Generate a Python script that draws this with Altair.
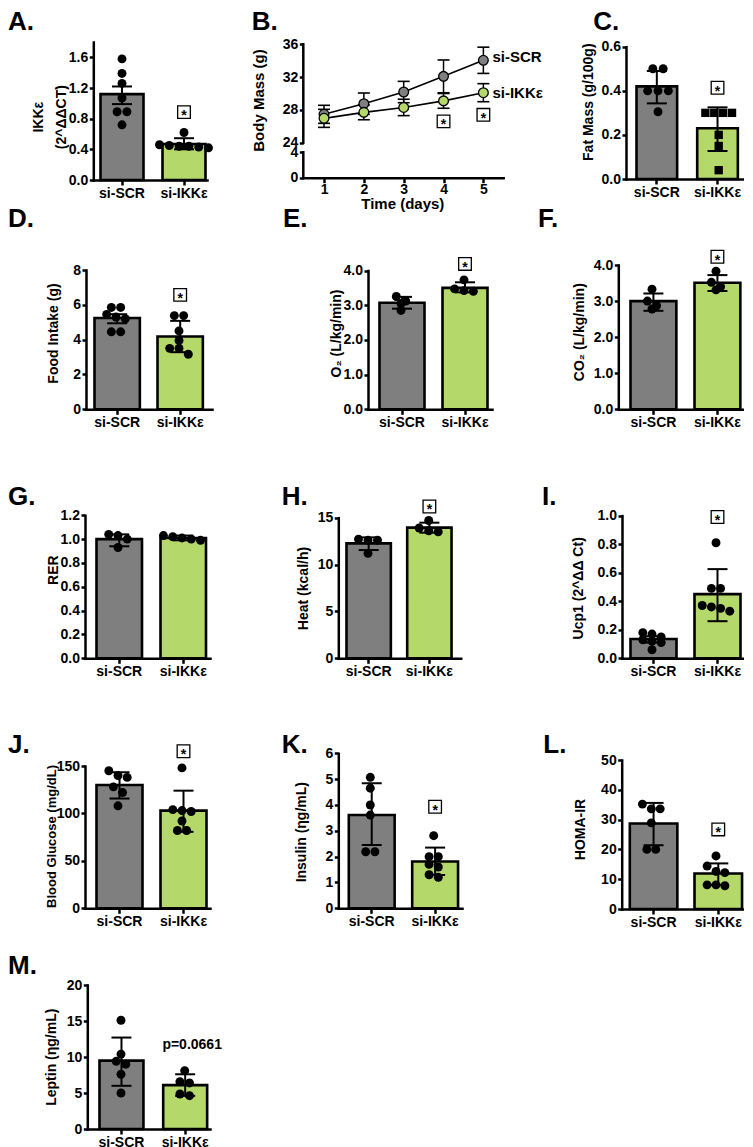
import altair as alt
import pandas as pd

FONT = "Liberation Sans"
CATS = ["si-SCR", "si-IKKε"]
GRAY = "#7f7f7f"
GREEN = "#b5d86b"

# ---------------- values ----------------
A_scr = [1.58, 1.39, 1.26, 1.07, 0.89, 0.89, 0.72]
A_ikk = [0.62, 0.46, 0.45, 0.44, 0.44, 0.43, 0.42]
A_bar = [1.12, 0.47]
A_lo = [0.99, 0.40]
A_hi = [1.22, 0.545]
A_sig = 0.885
A_ticks = [0, 0.4, 0.8, 1.2, 1.6]

B_days = [1, 2, 3, 4, 5]
B_scr_mean = [27.46, 28.76, 30.18, 32.09, 34.05]
B_scr_sem = [1.1, 1.3, 1.3, 2.0, 1.6]
B_ikk_mean = [26.97, 27.7, 28.3, 29.1, 30.1]
B_ikk_sem = [1.1, 0.9, 1.0, 0.9, 1.1]
B_sig_days = [4, 5]
B_sig_vals = [26.6, 27.4]
B_label_vals = [34.5, 30.1]
B_yticks = [0, 4, 24, 28, 32, 36]
B_xticks = [1, 2, 3, 4, 5]

C_scr = [0.50, 0.50, 0.40, 0.40, 0.40, 0.305]
C_ikk = [0.30, 0.30, 0.30, 0.30, 0.20, 0.15, 0.04]
C_bar = [0.42, 0.23]
C_lo = [0.343, 0.127]
C_hi = [0.49, 0.325]
C_sig = 0.414
C_ticks = [0, 0.2, 0.4, 0.6]

D_scr = [5.85, 5.85, 5.45, 5.3, 5.2, 4.45, 4.45]
D_ikk = [5.38, 5.38, 4.5, 3.95, 3.5, 3.5, 3.16]
D_bar = [5.24, 4.18]
D_lo = [4.94, 3.28]
D_hi = [5.46, 5.08]
D_sig = 6.57
D_ticks = [0, 2, 4, 6, 8]

E_scr = [3.25, 3.12, 3.05, 2.85]
E_ikk = [3.73, 3.47, 3.42, 3.40]
E_bar = [3.07, 3.5]
E_lo = [2.9, 3.37]
E_hi = [3.24, 3.66]
E_sig = 4.19
E_ticks = [0, 1, 2, 3, 4]

F_scr = [3.33, 3.0, 2.87, 2.78]
F_ikk = [3.83, 3.52, 3.40, 3.31]
F_bar = [3.0, 3.51]
F_lo = [2.73, 3.28]
F_hi = [3.21, 3.72]
F_sig = 4.23
F_ticks = [0, 1, 2, 3, 4]

G_scr = [1.04, 1.03, 1.0, 0.93]
G_ikk = [1.03, 1.02, 1.01, 1.0, 0.99]
G_bar = [1.0, 1.01]
G_lo = [0.94, 0.99]
G_hi = [1.04, 1.03]
G_ticks = [0, 0.2, 0.4, 0.6, 0.8, 1.0, 1.2]

H_scr = [12.7, 12.6, 12.6, 11.2]
H_ikk = [14.7, 13.9, 13.6, 13.5]
H_bar = [12.26, 13.94]
H_lo = [11.55, 13.4]
H_hi = [12.9, 14.47]
H_sig = 16.2
H_ticks = [0, 5, 10, 15]

I_scr = [0.18, 0.17, 0.15, 0.13, 0.12, 0.11, 0.06]
I_ikk = [0.81, 0.49, 0.49, 0.37, 0.36, 0.35, 0.33]
I_bar = [0.135, 0.45]
I_lo = [0.11, 0.26]
I_hi = [0.155, 0.625]
I_sig = 0.99
I_ticks = [0, 0.2, 0.4, 0.6, 0.8, 1.0]

J_scr = [145, 140, 138, 128, 122, 108]
J_ikk = [148, 104, 103, 102, 92, 82, 82]
J_bar = [130, 103]
J_lo = [115.7, 80.6]
J_hi = [143.4, 124]
J_sig = 165.5
J_ticks = [0, 50, 100, 150]

K_scr = [5.07, 4.65, 4.0, 3.61, 2.19, 2.19]
K_ikk = [2.81, 2.0, 2.0, 1.7, 1.6, 1.3, 1.2]
K_bar = [3.61, 1.81]
K_lo = [2.45, 1.29]
K_hi = [4.84, 2.35]
K_sig = 3.93
K_ticks = [0, 1, 2, 3, 4, 5, 6]

L_scr = [35.2, 33.6, 33.6, 28.9, 20.0, 20.0]
L_ikk = [17.8, 14.4, 12.6, 12.2, 8.1, 8.1, 7.8]
L_bar = [28.7, 11.9]
L_lo = [21.4, 8.1]
L_hi = [35.6, 15.3]
L_sig = 26.7
L_ticks = [0, 10, 20, 30, 40, 50]

M_scr = [15.1, 10.4, 9.4, 9.0, 7.6, 5.0]
M_ikk = [8.1, 6.57, 6.4, 4.86, 4.63]
M_bar = [9.5, 6.1]
M_lo = [6.0, 4.6]
M_hi = [12.7, 7.6]
M_ptext = "p=0.0661"
M_pval_y = 11.6
M_ticks = [0, 5, 10, 15, 20]

PANELS = {
    "A": dict(scr=A_scr, ikk=A_ikk, bar=A_bar, lo=A_lo, hi=A_hi, sig=A_sig, ymax=1.8, ticks=A_ticks, fmt=".1f",
              title=["IKKε", "(2^ΔΔCT)"]),
    "C": dict(scr=C_scr, ikk=C_ikk, bar=C_bar, lo=C_lo, hi=C_hi, sig=C_sig, ymax=0.6, ticks=C_ticks, fmt=".1f",
              title="Fat Mass (g/100g)", ikk_shape="square"),
    "D": dict(scr=D_scr, ikk=D_ikk, bar=D_bar, lo=D_lo, hi=D_hi, sig=D_sig, ymax=8, ticks=D_ticks, fmt="d",
              title="Food Intake (g)"),
    "E": dict(scr=E_scr, ikk=E_ikk, bar=E_bar, lo=E_lo, hi=E_hi, sig=E_sig, ymax=4, ticks=E_ticks, fmt=".1f",
              title="O₂ (L/kg/min)"),
    "F": dict(scr=F_scr, ikk=F_ikk, bar=F_bar, lo=F_lo, hi=F_hi, sig=F_sig, ymax=4, ticks=F_ticks, fmt=".1f",
              title="CO₂ (L/kg/min)"),
    "G": dict(scr=G_scr, ikk=G_ikk, bar=G_bar, lo=G_lo, hi=G_hi, sig=None, ymax=1.2, ticks=G_ticks, fmt=".1f",
              title="RER"),
    "H": dict(scr=H_scr, ikk=H_ikk, bar=H_bar, lo=H_lo, hi=H_hi, sig=H_sig, ymax=15, ticks=H_ticks, fmt="d",
              title="Heat (kcal/h)"),
    "I": dict(scr=I_scr, ikk=I_ikk, bar=I_bar, lo=I_lo, hi=I_hi, sig=I_sig, ymax=1.0, ticks=I_ticks, fmt=".1f",
              title="Ucp1 (2^ΔΔ Ct)"),
    "J": dict(scr=J_scr, ikk=J_ikk, bar=J_bar, lo=J_lo, hi=J_hi, sig=J_sig, ymax=150, ticks=J_ticks, fmt="d",
              title="Blood Glucose (mg/dL)", title_size=13),
    "K": dict(scr=K_scr, ikk=K_ikk, bar=K_bar, lo=K_lo, hi=K_hi, sig=K_sig, ymax=6, ticks=K_ticks, fmt="d",
              title="Insulin (ηg/mL)"),
    "L": dict(scr=L_scr, ikk=L_ikk, bar=L_bar, lo=L_lo, hi=L_hi, sig=L_sig, ymax=50, ticks=L_ticks, fmt="d",
              title="HOMA-IR"),
    "M": dict(scr=M_scr, ikk=M_ikk, bar=M_bar, lo=M_lo, hi=M_hi, sig=None, ymax=20, ticks=M_ticks, fmt="d",
              title="Leptin (ηg/mL)", note=M_ptext, note_y=M_pval_y),
}

# ---------------- layout (page pixels) ----------------
CELL_W = 245
CELL_H = 224
COL_LEFT = [8 + i * CELL_W for i in range(3)]
ROW_TOP = [8 + i * CELL_H for i in range(5)]

GEOM = {
    "A": dict(row=0, col=0, axis_x=93.3, x_end=207, b1=(100, 145), b2=(162, 205), top=42, bottom=180,
              title=(38.5, 116.7), letter=(8, 30)),
    "B": dict(row=0, col=1, axis_x=303.3, x_end=503.3, top=44.3, bottom=177.7, p4=152.3, p24=142.7,
              title=(258.3, 100), xtitle=(402.3, 208.3), letter=(251.7, 30)),
    "C": dict(row=0, col=2, axis_x=626, x_end=748, b1=(636, 677.7), b2=(696.7, 738.3), top=46.7, bottom=179,
              title=(588.3, 101.7), letter=(593.3, 30)),
    "D": dict(row=1, col=0, axis_x=86, x_end=212, b1=(94, 140.7), b2=(157, 203), top=270, bottom=409.3,
              title=(53.3, 333), letter=(8, 227)),
    "E": dict(row=1, col=1, axis_x=368, x_end=492, b1=(379, 425), b2=(442, 488), top=270.5, bottom=409.3,
              title=(336, 333), letter=(283, 227)),
    "F": dict(row=1, col=2, axis_x=618.3, x_end=749, b1=(630, 676.7), b2=(694, 741), top=265, bottom=409.3,
              title=(579.3, 331.7), letter=(538, 227)),
    "G": dict(row=2, col=0, axis_x=85, x_end=210, b1=(96, 143), b2=(160, 206), top=515.3, bottom=658.3,
              title=(53, 569.6), letter=(8, 505)),
    "H": dict(row=2, col=1, axis_x=338.3, x_end=460.7, b1=(346, 390.7), b2=(406.7, 452.7), top=517.7,
              bottom=658.3, title=(303.3, 588), letter=(281.7, 505)),
    "I": dict(row=2, col=2, axis_x=622, x_end=749, b1=(630, 677), b2=(694, 741), top=515.6, bottom=658.3,
              title=(578, 587.8), letter=(542, 505)),
    "J": dict(row=3, col=0, axis_x=85, x_end=210, b1=(96, 144), b2=(160, 206), top=766, bottom=908.3,
              title=(51, 836), letter=(8, 753)),
    "K": dict(row=3, col=1, axis_x=338.3, x_end=462, b1=(348.3, 396.7), b2=(411.7, 457), top=753.3,
              bottom=908.3, title=(301.7, 831.7), letter=(281.7, 753)),
    "L": dict(row=3, col=2, axis_x=621.7, x_end=750, b1=(629.3, 677.7), b2=(694, 742.7), top=760,
              bottom=909, title=(580, 829), letter=(543.3, 753)),
    "M": dict(row=4, col=0, axis_x=87.3, x_end=210, b1=(99, 144.3), b2=(162.7, 207.3), top=985, bottom=1129,
              title=(51.7, 1056.7), letter=(8, 974.3)),
}

DOT = 9.8


def swarm(vals, ppu, diam):
    order = sorted(range(len(vals)), key=lambda i: -vals[i])
    rows = []
    for i in order:
        y = vals[i] * ppu
        if rows and rows[-1][0] - y < 0.7 * diam:
            rows[-1][1].append(i)
        else:
            rows.append([y, [i]])
    off = [0.0] * len(vals)
    for _, idx in rows:
        k = len(idx)
        for j, i in enumerate(idx):
            off[i] = (j - (k - 1) / 2) * diam
    return off


def letter_layer(letter, g):
    cl, rt = COL_LEFT[g["col"]], ROW_TOP[g["row"]]
    return alt.Chart(pd.DataFrame({"t": [letter + "."]})).mark_text(
        align="left", baseline="alphabetic", fontSize=26, fontWeight="bold", font=FONT, color="black"
    ).encode(text="t:N", x=alt.value(g["letter"][0] - cl), y=alt.value(g["letter"][1] - rt))


def bar_panel(key):
    p, g = PANELS[key], GEOM[key]
    rt, rh = ROW_TOP[g["row"]], CELL_H
    cl, cw = COL_LEFT[g["col"]], CELL_W
    ax = g["axis_x"] - cl
    R = g["x_end"] - g["axis_x"]
    s1 = g["b1"][0] - g["axis_x"]
    s2 = g["b2"][0] - g["axis_x"]
    bw = ((g["b1"][1] - g["b1"][0]) + (g["b2"][1] - g["b2"][0])) / 2
    step = s2 - s1
    pin = 1 - bw / step
    e = R - (s2 + bw)
    pout = (R / step - 2 + pin) / 2
    al = s1 / (s1 + e)
    ybot = g["bottom"] - rt
    ytop = g["top"] - rt
    xs = alt.Scale(type="band", domain=CATS, range=[ax, ax + R], paddingInner=pin, paddingOuter=pout, align=al)
    ys = alt.Scale(domain=[0, p["ymax"]], range=[ybot, ytop], nice=False, zero=True)
    xax = alt.Axis(title=None, labelAngle=0, offset=ybot - rh, tickSize=5, labelPadding=1, labelFlush=False)
    yax = alt.Axis(values=p["ticks"], format=p["fmt"], offset=-ax, tickSize=4, labelPadding=1.5,
                   labelOverlap=False, title=p["title"], titleX=g["title"][0] - g["axis_x"],
                   titleY=g["title"][1] - rt, titleAngle=270, titleAlign="center", titleBaseline="middle",
                   titleLineHeight=23, titleFontSize=p.get("title_size", 14))
    X = alt.X("cat:N", scale=xs, axis=xax, sort=CATS)

    def Y(f):
        return alt.Y(f, type="quantitative", scale=ys, axis=yax)

    color = alt.Color("cat:N", scale=alt.Scale(domain=CATS, range=[GRAY, GREEN]), legend=None)
    df_bar = pd.DataFrame({"cat": CATS, "val": p["bar"], "lo": p["lo"], "hi": p["hi"]})
    bars = alt.Chart(df_bar).mark_bar(stroke="black", strokeWidth=2.6, width=bw - 1).encode(
        x=X, y=Y("val"), color=color)
    err = alt.Chart(df_bar).mark_rule(color="black", strokeWidth=2).encode(x=X, y=Y("lo"), y2="hi")
    cap_lo = alt.Chart(df_bar).mark_tick(color="black", size=20, thickness=2, opacity=1).encode(x=X, y=Y("lo"))
    cap_hi = alt.Chart(df_bar).mark_tick(color="black", size=20, thickness=2, opacity=1).encode(x=X, y=Y("hi"))

    ppu = (g["bottom"] - g["top"]) / p["ymax"]
    layers = [bars, err, cap_lo, cap_hi]
    for cat, vals, shape in [(CATS[0], p["scr"], "circle"), (CATS[1], p["ikk"], p.get("ikk_shape", "circle"))]:
        diam = DOT if shape == "circle" else 8.4
        off = swarm(vals, ppu, diam)
        jit = [o / (bw / 2) for o in off]
        dfp = pd.DataFrame({"cat": [cat] * len(vals), "val": vals, "jit": jit})
        size = 80 if shape == "circle" else 70
        layers.append(alt.Chart(dfp).mark_point(filled=True, shape=shape, size=size, color="black", opacity=1)
                      .encode(x=X, y=Y("val"),
                              xOffset=alt.XOffset("jit:Q", scale=alt.Scale(domain=[-1, 1]))))
    if p.get("sig") is not None:
        dfs = pd.DataFrame({"cat": [CATS[1]], "val": [p["sig"]], "s": ["*"]})
        layers.append(alt.Chart(dfs).mark_point(shape="square", filled=False, size=160, color="black",
                                                strokeWidth=1.3, opacity=1).encode(x=X, y=Y("val")))
        layers.append(alt.Chart(dfs).mark_text(fontSize=14, fontWeight="bold", font=FONT, baseline="alphabetic",
                                               dy=8, color="black").encode(x=X, y=Y("val"), text="s:N"))
    if p.get("note"):
        dfn = pd.DataFrame({"cat": [CATS[1]], "val": [p["note_y"]], "s": [p["note"]]})
        layers.append(alt.Chart(dfn).mark_text(fontSize=14, fontWeight="bold", font=FONT, baseline="middle",
                                               dx=7, color="black").encode(x=X, y=Y("val"), text="s:N"))
    layers.append(letter_layer(key, g))
    return alt.layer(*layers).properties(width=cw, height=rh)


def line_panel():
    g = GEOM["B"]
    rt, rh = ROW_TOP[g["row"]], CELL_H
    cl, cw = COL_LEFT[g["col"]], CELL_W
    ax = g["axis_x"] - cl
    R = g["x_end"] - g["axis_x"]
    x0 = 0.48
    xs = alt.Scale(domain=[x0, 5.5], range=[ax, ax + R], nice=False, zero=False)
    ys = alt.Scale(domain=[0, 4, 24, 36],
                   range=[g["bottom"] - rt, g["p4"] - rt, g["p24"] - rt, g["top"] - rt], nice=False, zero=False)
    xax = alt.Axis(values=B_xticks, format="d", offset=(g["bottom"] - rt) - rh, tickSize=5, labelPadding=0,
                   labelFlush=False, title="Time (days)", titleX=g["xtitle"][0] - cl,
                   titleY=g["xtitle"][1] - g["bottom"], titleAlign="center", titleBaseline="alphabetic",
                   titleAngle=0, titleFontSize=15)
    yax = alt.Axis(values=B_yticks, format="d", offset=-ax, tickSize=4, labelPadding=1.5, labelOverlap=False,
                   domain=False, title="Body Mass (g)", titleX=g["title"][0] - g["axis_x"],
                   titleY=g["title"][1] - rt, titleAngle=270, titleAlign="center", titleBaseline="middle",
                   titleFontSize=15)

    def X(f):
        return alt.X(f, type="quantitative", scale=xs, axis=xax)

    def Y(f):
        return alt.Y(f, type="quantitative", scale=ys, axis=yax)

    rows = []
    for d, m, s in zip(B_days, B_scr_mean, B_scr_sem):
        rows.append({"day": d, "val": m, "lo": m - s, "hi": m + s, "cat": CATS[0]})
    for d, m, s in zip(B_days, B_ikk_mean, B_ikk_sem):
        rows.append({"day": d, "val": m, "lo": m - s, "hi": m + s, "cat": CATS[1]})
    df = pd.DataFrame(rows)
    fill = alt.Fill("cat:N", scale=alt.Scale(domain=CATS, range=[GRAY, GREEN]), legend=None)

    seg = pd.DataFrame({"lo": [0, 24], "hi": [4, 36]})
    axis_line = alt.Chart(seg).mark_rule(color="black", strokeWidth=2.5, strokeCap="square").encode(
        x=alt.datum(x0), y=Y("lo"), y2="hi")
    err = alt.Chart(df).mark_rule(color="black", strokeWidth=1.5).encode(x=X("day"), y=Y("lo"), y2="hi")
    cap_lo = alt.Chart(df).mark_tick(color="black", size=12, thickness=1.6, opacity=1, orient="horizontal").encode(
        x=X("day"), y=Y("lo"))
    cap_hi = alt.Chart(df).mark_tick(color="black", size=12, thickness=1.6, opacity=1, orient="horizontal").encode(
        x=X("day"), y=Y("hi"))
    line = alt.Chart(df).mark_line(color="black", strokeWidth=1.6).encode(x=X("day"), y=Y("val"), detail="cat:N")
    pts = alt.Chart(df).mark_point(filled=True, size=95, stroke="black", strokeWidth=1.3, opacity=1,
                                   shape="circle").encode(x=X("day"), y=Y("val"), fill=fill)
    dfs = pd.DataFrame({"day": B_sig_days, "val": B_sig_vals, "s": ["*", "*"]})
    box = alt.Chart(dfs).mark_point(shape="square", filled=False, size=160, color="black", strokeWidth=1.3,
                                    opacity=1).encode(x=X("day"), y=Y("val"))
    star = alt.Chart(dfs).mark_text(fontSize=14, fontWeight="bold", font=FONT, baseline="alphabetic", dy=8,
                                    color="black").encode(x=X("day"), y=Y("val"), text="s:N")
    dfl = pd.DataFrame({"day": [B_days[-1]] * 2, "val": B_label_vals, "s": CATS})
    labels = alt.Chart(dfl).mark_text(fontSize=15, fontWeight="bold", font=FONT, align="left", baseline="middle",
                                      dx=9, color="black").encode(x=X("day"), y=Y("val"), text="s:N")
    return alt.layer(axis_line, err, cap_lo, cap_hi, line, pts, box, star, labels,
                     letter_layer("B", g)).properties(width=cw, height=rh)


chart = alt.concat(
    bar_panel("A"), line_panel(), bar_panel("C"),
    bar_panel("D"), bar_panel("E"), bar_panel("F"),
    bar_panel("G"), bar_panel("H"), bar_panel("I"),
    bar_panel("J"), bar_panel("K"), bar_panel("L"),
    bar_panel("M"),
    columns=3, spacing=0, bounds="flush",
).properties(padding=0).configure_view(strokeWidth=0).configure_axis(
    domainColor="black", domainWidth=2.5, domainCap="square", tickColor="black", tickWidth=2.5,
    labelFont=FONT, labelFontWeight="bold", labelFontSize=14, labelColor="black",
    titleFont=FONT, titleFontWeight="bold", titleFontSize=14, titleColor="black", grid=False,
)

chart.save("out.html", embed_options={"renderer": "svg", "actions": False})
